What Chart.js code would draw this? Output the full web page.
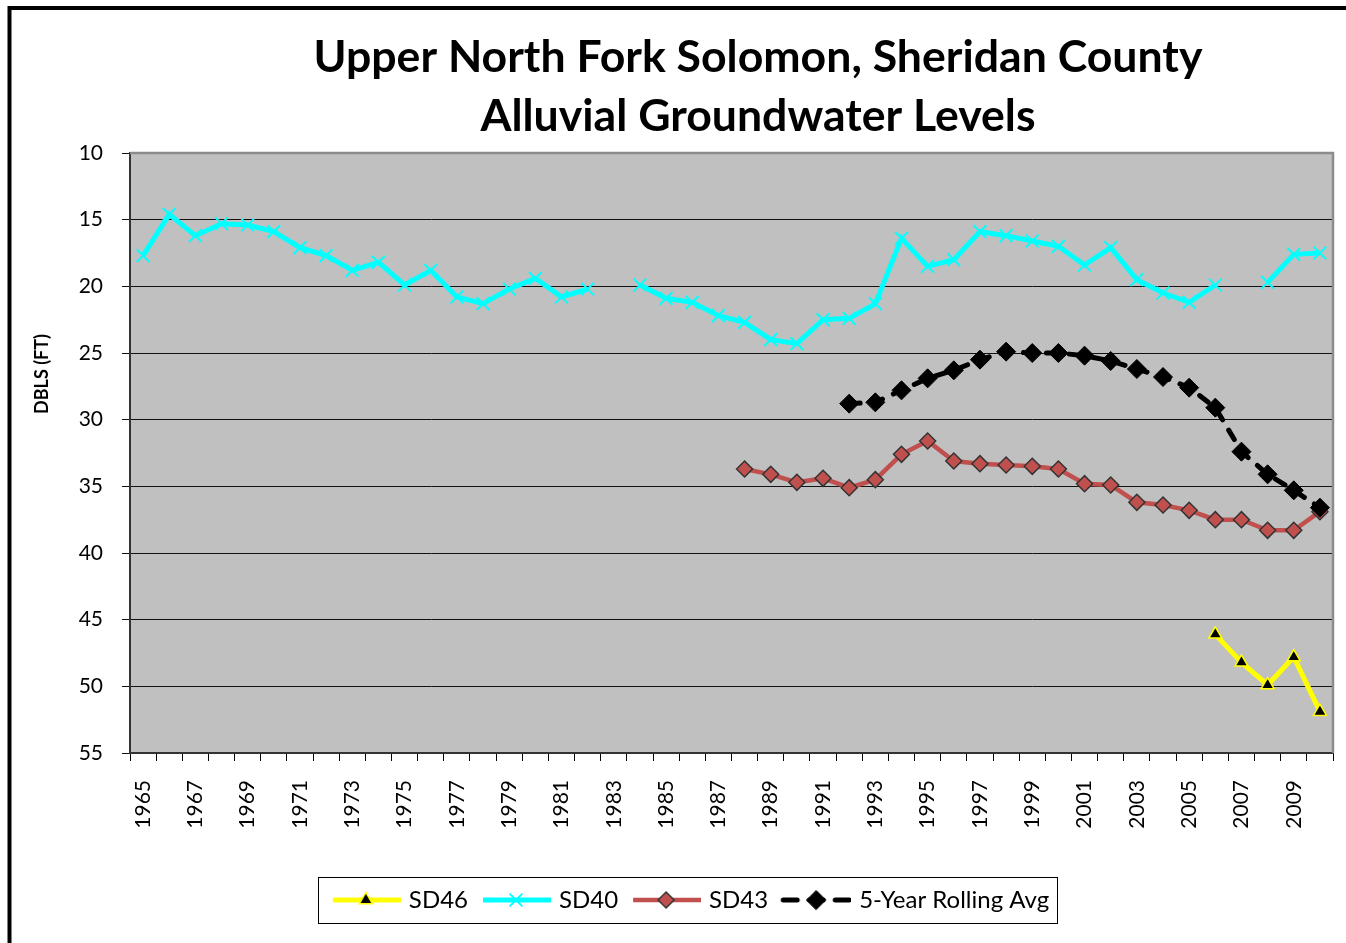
<!DOCTYPE html>
<html><head><meta charset="utf-8">
<script src="https://cdn.jsdelivr.net/npm/chart.js@4/dist/chart.umd.min.js"></script>
<style>html,body{margin:0;padding:0;background:#fff;overflow:hidden}#wrap{position:relative;width:1346px;height:943px}canvas{display:block}</style>
</head><body><div id="wrap"><canvas id="c" width="1346" height="943"></canvas></div>
<script>
const titleLines = ['Upper North Fork Solomon, Sheridan County', 'Alluvial Groundwater Levels'];
const yAxisTitle = 'DBLS (FT)';
const years = ['1965','1966','1967','1968','1969','1970','1971','1972','1973','1974',
  '1975','1976','1977','1978','1979','1980','1981','1982','1983','1984',
  '1985','1986','1987','1988','1989','1990','1991','1992','1993','1994',
  '1995','1996','1997','1998','1999','2000','2001','2002','2003','2004',
  '2005','2006','2007','2008','2009','2010'];
const yTicks = [10,15,20,25,30,35,40,45,50,55];
const sd46 = [null,null,null,null,null,null,null,null,null,null,
  null,null,null,null,null,null,null,null,null,null,
  null,null,null,null,null,null,null,null,null,null,
  null,null,null,null,null,null,null,null,null,null,
  null,46.1,48.2,49.9,47.8,51.9];
const sd40 = [17.7,14.6,16.2,15.3,15.4,15.9,17.1,17.7,18.8,18.2,
  19.9,18.8,20.8,21.3,20.2,19.4,20.8,20.2,null,19.9,
  20.9,21.2,22.2,22.7,24.0,24.3,22.5,22.4,21.3,16.4,
  18.5,18.0,15.9,16.2,16.6,17.0,18.4,17.1,19.5,20.5,
  21.2,19.9,null,19.7,17.6,17.5];
const sd43 = [null,null,null,null,null,null,null,null,null,null,
  null,null,null,null,null,null,null,null,null,null,
  null,null,null,33.7,34.1,34.7,34.4,35.1,34.5,32.6,
  31.6,33.1,33.3,33.4,33.5,33.7,34.8,34.9,36.2,36.4,
  36.8,37.5,37.5,38.3,38.3,36.9];
const rolling5 = [null,null,null,null,null,null,null,null,null,null,
  null,null,null,null,null,null,null,null,null,null,
  null,null,null,null,null,null,null,28.8,28.7,27.8,
  26.9,26.3,25.5,24.9,25.0,25.0,25.2,25.6,26.2,26.8,
  27.6,29.1,32.4,34.1,35.3,36.6];
const seriesNames = ['SD46','SD40','SD43','5-Year Rolling Avg'];

const FONT = 'Lato, "Open Sans", sans-serif';

function markerPath(ctx, style, x, y, r){
  ctx.beginPath();
  if (style === 'triangle'){
    ctx.moveTo(x, y - r); ctx.lineTo(x + r*0.866, y + r*0.5); ctx.lineTo(x - r*0.866, y + r*0.5); ctx.closePath();
  } else if (style === 'rectRot'){
    ctx.moveTo(x - r, y); ctx.lineTo(x, y - r); ctx.lineTo(x + r, y); ctx.lineTo(x, y + r); ctx.closePath();
  } else if (style === 'crossRot'){
    const o = r*0.7071;
    ctx.moveTo(x - o, y - o); ctx.lineTo(x + o, y + o); ctx.moveTo(x + o, y - o); ctx.lineTo(x - o, y + o);
  }
}
function makeSymbol(ds){
  const c = document.createElement('canvas');
  c.width = 80; c.height = 26;
  const g = c.getContext('2d');
  g.lineCap = ds.borderCapStyle || 'butt';
  g.strokeStyle = ds.borderColor; g.lineWidth = ds.borderWidth;
  if (ds.borderDash) { g.setLineDash([14, 12]); }
  g.beginPath(); g.moveTo(12, 13); g.lineTo(80, 13); g.stroke();
  g.setLineDash([]);
  markerPath(g, ds.pointStyle, 45, 13, ds.pointRadius);
  if (ds.pointStyle !== 'crossRot'){ g.fillStyle = ds.pointBackgroundColor; g.fill(); }
  g.lineWidth = ds.pointBorderWidth; g.strokeStyle = ds.pointBorderColor; g.stroke();
  return c;
}

const datasets = [
  { label: seriesNames[0], data: sd46, borderColor:'#FFFF00', borderWidth:5, pointStyle:'triangle', pointRadius:7.5,
    pointBackgroundColor:'#000000', pointBorderColor:'#FFFF00', pointBorderWidth:1.5, order:3 },
  { label: seriesNames[1], data: sd40, borderColor:'#00FFFF', borderWidth:5, pointStyle:'crossRot', pointRadius:9,
    pointBackgroundColor:'#00FFFF', pointBorderColor:'#00FFFF', pointBorderWidth:2, order:2 },
  { label: seriesNames[2], data: sd43, borderColor:'#C0504D', borderWidth:4.5, pointStyle:'rectRot', pointRadius:8,
    pointBackgroundColor:'#C0504D', pointBorderColor:'#333333', pointBorderWidth:1.5, order:1 },
  { label: seriesNames[3], data: rolling5, borderColor:'#000000', borderWidth:5, borderDash:[11,12], borderCapStyle:'round',
    pointStyle:'rectRot', pointRadius:9.5, pointBackgroundColor:'#000000', pointBorderColor:'#000000', pointBorderWidth:1, order:0 }
];
datasets.forEach(d => { d.fill = false; d.tension = 0; d.spanGaps = false; d.pointHoverRadius = d.pointRadius; });

const framePlugin = {
  id:'frame',
  beforeDraw(chart){
    const ctx = chart.ctx, a = chart.chartArea;
    ctx.save();
    ctx.fillStyle = '#fff'; ctx.fillRect(0,0,chart.width,chart.height);
    ctx.strokeStyle = '#000'; ctx.lineWidth = 4;
    ctx.beginPath(); ctx.moveTo(9.5, chart.height); ctx.lineTo(9.5, 8); ctx.lineTo(chart.width, 8); ctx.stroke();
    ctx.fillStyle = '#C0C0C0'; ctx.fillRect(a.left, a.top, a.right - a.left, a.bottom - a.top);
    ctx.restore();
  },
  beforeDatasetsDraw(chart){
    const ctx = chart.ctx, a = chart.chartArea;
    ctx.save();
    ctx.strokeStyle = '#8C8C8C'; ctx.lineWidth = 2.5;
    ctx.beginPath(); ctx.moveTo(a.left, a.top); ctx.lineTo(a.right, a.top); ctx.lineTo(a.right, a.bottom); ctx.stroke();
    ctx.restore();
  },
  afterDraw(chart){
    const ctx = chart.ctx;
    ctx.save();
    ctx.fillStyle = '#000';
    ctx.textAlign = 'center'; ctx.textBaseline = 'middle';
    ctx.font = 'bold 44.6px ' + FONT;
    ctx.fillText(titleLines[0], 758, 58);
    ctx.fillText(titleLines[1], 758, 117);
    ctx.save();
    ctx.translate(42, 374); ctx.rotate(-Math.PI/2);
    ctx.font = 'bold 18px ' + FONT;
    ctx.fillText(yAxisTitle, 0, 0);
    ctx.restore();
    const hb = chart.legend && chart.legend.legendHitBoxes;
    if (hb && hb.length){
      const l = Math.min(...hb.map(h=>h.left)), r = Math.max(...hb.map(h=>h.left + h.width));
      const cy = hb[0].top + hb[0].height/2;
      ctx.strokeStyle = '#000'; ctx.lineWidth = 1;
      ctx.strokeRect(Math.round(l - 7) + 0.5, Math.round(cy - 23) + 0.5, Math.round(r - l + 15), 46);
    }
    ctx.restore();
  }
};

function build(){
  const symbols = datasets.map(makeSymbol);
  new Chart(document.getElementById('c'), {
    type:'line',
    data:{ labels: years, datasets },
    plugins:[framePlugin],
    options:{
      responsive:false, animation:false, devicePixelRatio:1,
      events:[],
      layout:{ padding:{ left:41, right:13, top:153, bottom:21 } },
      scales:{
        x:{
          type:'category', offset:true,
          grid:{ display:true, drawOnChartArea:false, drawTicks:true, tickLength:8, offset:true, color:'#000', tickColor:'#000' },
          border:{ display:true, color:'#333', width:2 },
          ticks:{ autoSkip:false, minRotation:90, maxRotation:90, padding:19, color:'#000',
                  font:{ family:FONT, size:21 }, callback:(v,i)=> (i % 2 === 0 ? years[i] : '') },
          afterFit:s=>{ s.height = 128; s.paddingLeft = 0; s.paddingRight = 0; }
        },
        y:{
          reverse:true, min:yTicks[0], max:yTicks[yTicks.length-1],
          afterBuildTicks:s=>{ s.ticks = yTicks.map(v=>({value:v})); },
          ticks:{ padding:19, color:'#000', font:{ family:FONT, size:21 } },
          grid:{ color:c => (c.tick && c.tick.value === 10 ? '#8C8C8C' : '#111'), lineWidth:1, tickLength:8, tickColor:'#111' },
          border:{ color:'#333', width:2 },
          afterFit:s=>{ s.width = 89; }
        }
      },
      plugins:{
        title:{ display:false },
        tooltip:{ enabled:false },
        legend:{
          position:'bottom',
          labels:{
            usePointStyle:true, pointStyleWidth:72, padding:7, color:'#000',
            font:{ family:FONT, size:24 },
            generateLabels:(chart)=> chart.data.datasets.map((d,i)=>({
              text:d.label, pointStyle:symbols[i], fillStyle:'rgba(0,0,0,0)', strokeStyle:'rgba(0,0,0,0)',
              lineWidth:0, hidden:false, datasetIndex:i, fontColor:'#000'
            }))
          }
        }
      }
    }
  });
}
const loads = ['bold 44.6px Lato','21px Lato','bold 18px Lato','24px Lato'].map(f=>document.fonts.load(f).catch(()=>null));
Promise.all(loads).then(build, build);
</script>
</body></html>
